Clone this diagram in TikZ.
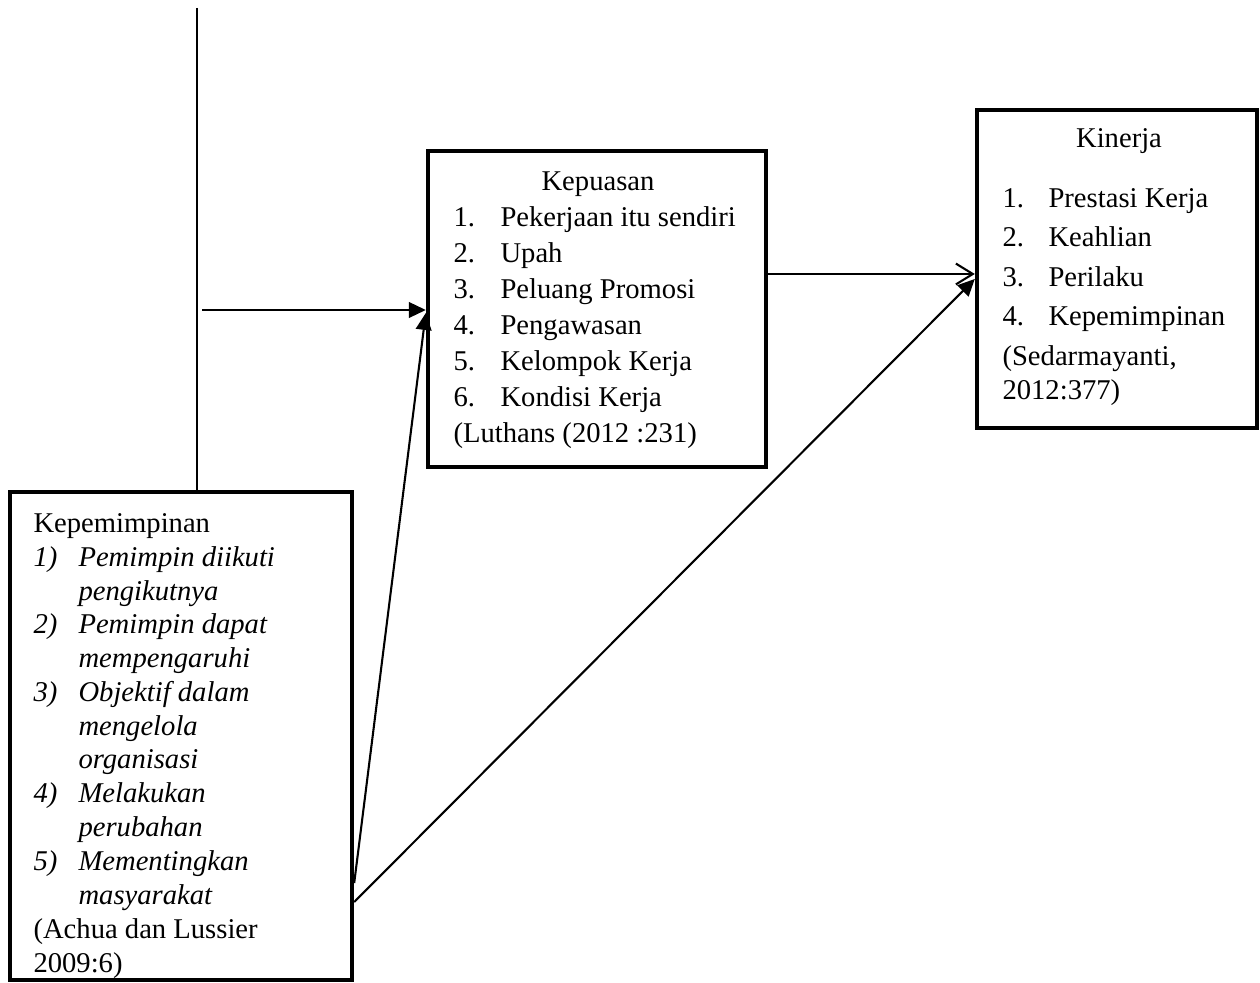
\documentclass[tikz,border=0pt]{standalone}
\usepackage{fontspec}
\setmainfont{Liberation Serif}
\usetikzlibrary{arrows.meta,calc,fit}
\tikzset{
    kotak/.style={draw, line width=1.7pt, inner sep=0pt},
    teks/.style={anchor=base west, inner sep=0pt},
    judul/.style={anchor=base, inner sep=0pt},
    garis/.style={line width=0.8pt},
    panah/.style={line width=0.8pt, -{Triangle[length=6.5pt,width=6pt]}},
    panahbuka/.style={line width=0.8pt, -{Straight Barb[length=6.5pt,width=8pt]}},
}
\begin{document}
\begin{tikzpicture}[x=0.0135cm, y=-0.0135cm, font=\fontsize{11}{13}\selectfont]
    \useasboundingbox (0,0) rectangle (1260,983);
    % kotak
    \node[kotak, fit={(428,151) (766,467)}] (kepuasan) {};
    \node[kotak, fit={(977,110) (1257,428)}] (kinerja) {};
    \node[kotak, fit={(10,492) (352,980)}] (kepemimpinan) {};
        % isi kepuasan
        \node[judul] (kps-judul) at (598,191) {Kepuasan};
        \node[teks] (kps-n1) at (453,227) {1.};
        \node[teks] (kps-1) at (500,227) {Pekerjaan itu sendiri};
        \node[teks] (kps-n2) at (453,263) {2.};
        \node[teks] (kps-2) at (500,263) {Upah};
        \node[teks] (kps-n3) at (453,299) {3.};
        \node[teks] (kps-3) at (500,299) {Peluang Promosi};
        \node[teks] (kps-n4) at (453,335) {4.};
        \node[teks] (kps-4) at (500,335) {Pengawasan};
        \node[teks] (kps-n5) at (453,371) {5.};
        \node[teks] (kps-5) at (500,371) {Kelompok Kerja};
        \node[teks] (kps-n6) at (453,407) {6.};
        \node[teks] (kps-6) at (500,407) {Kondisi Kerja};
        \node[teks] (kps-sumber) at (453,443) {(Luthans (2012 :231)};
        % isi kinerja
        \node[judul] (knj-judul) at (1119,148) {Kinerja};
        \node[teks] (knj-n1) at (1002,208) {1.};
        \node[teks] (knj-1) at (1048,208) {Prestasi Kerja};
        \node[teks] (knj-n2) at (1002,247) {2.};
        \node[teks] (knj-2) at (1048,247) {Keahlian};
        \node[teks] (knj-n3) at (1002,287) {3.};
        \node[teks] (knj-3) at (1048,287) {Perilaku};
        \node[teks] (knj-n4) at (1002,326) {4.};
        \node[teks] (knj-4) at (1048,326) {Kepemimpinan};
        \node[teks] (knj-sumber1) at (1002,366) {(Sedarmayanti,};
        \node[teks] (knj-sumber2) at (1002,400) {2012:377)};
        % isi kepemimpinan
        \node[teks] (kpm-judul) at (33,532) {Kepemimpinan};
        \node[teks] (kpm-n1) at (33,566) {\itshape 1)};
        \node[teks] (kpm-1a) at (78,566) {\itshape Pemimpin diikuti};
        \node[teks] (kpm-1b) at (78,600) {\itshape pengikutnya};
        \node[teks] (kpm-n2) at (33,633) {\itshape 2)};
        \node[teks] (kpm-2a) at (78,633) {\itshape Pemimpin dapat};
        \node[teks] (kpm-2b) at (78,667) {\itshape mempengaruhi};
        \node[teks] (kpm-n3) at (33,701) {\itshape 3)};
        \node[teks] (kpm-3a) at (78,701) {\itshape Objektif dalam};
        \node[teks] (kpm-3b) at (78,735) {\itshape mengelola};
        \node[teks] (kpm-3c) at (78,768) {\itshape organisasi};
        \node[teks] (kpm-n4) at (33,802) {\itshape 4)};
        \node[teks] (kpm-4a) at (78,802) {\itshape Melakukan};
        \node[teks] (kpm-4b) at (78,836) {\itshape perubahan};
        \node[teks] (kpm-n5) at (33,870) {\itshape 5)};
        \node[teks] (kpm-5a) at (78,870) {\itshape Mementingkan};
        \node[teks] (kpm-5b) at (78,904) {\itshape masyarakat};
        \node[teks] (kpm-sumber1) at (33,938) {(Achua dan Lussier};
        \node[teks] (kpm-sumber2) at (33,972) {2009:6)};
    % garis dan panah
    \coordinate (atas) at (197,8);
    \draw[line width=0.6pt] (atas) -- (atas |- kepemimpinan.north);
    \coordinate (awal) at (202,310);
    \draw[panah] (awal) -- (awal -| kepuasan.west);
    \draw[panah] ($(kepemimpinan.east)+(0,147)$) -- ($(kepuasan.west)+(0,4)$);
    \coordinate (kanan) at ($(kepuasan.east)+(0,-35)$);
    \draw[panahbuka] (kanan) -- (kanan -| kinerja.west);
    \draw[panah] ($(kepemimpinan.east)+(0,166)$) -- ($(kinerja.west)+(0,10)$);
\end{tikzpicture}
\end{document}
